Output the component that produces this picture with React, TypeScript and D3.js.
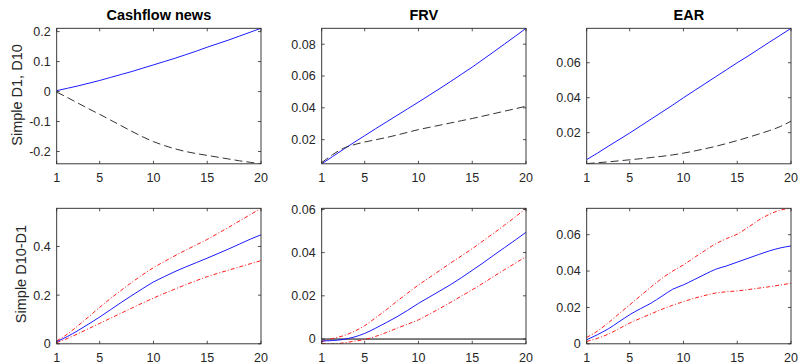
import React from "react";
import * as d3 from "d3";

const horizons = [1, 2, 3, 4, 5, 6, 7, 8, 9, 10, 11, 12, 13, 14, 15, 16, 17, 18, 19, 20];
const xTicks = [1, 5, 10, 15, 20];
const titles = ["Cashflow news", "FRV", "EAR"];
const rowLabels = ["Simple D1, D10", "Simple D10-D1"];

// top row: D10 (solid blue) and D1 (dashed black)
const cfD10 = [0.003, 0.011, 0.019, 0.028, 0.037, 0.047, 0.057, 0.067, 0.078, 0.089, 0.1, 0.111, 0.123, 0.135, 0.148, 0.16, 0.172, 0.185, 0.198, 0.211];
const cfD1 = [-0.002, -0.02, -0.039, -0.058, -0.076, -0.095, -0.114, -0.133, -0.151, -0.167, -0.18, -0.191, -0.2, -0.207, -0.213, -0.219, -0.225, -0.231, -0.236, -0.241];
const frvD10 = [0.0048, 0.0093, 0.0138, 0.0182, 0.0225, 0.0268, 0.031, 0.0352, 0.0394, 0.0436, 0.0479, 0.0522, 0.0566, 0.0611, 0.0656, 0.0704, 0.0752, 0.0801, 0.085, 0.09];
const frvD1 = [0.0055, 0.0105, 0.0145, 0.0168, 0.0185, 0.0199, 0.0213, 0.0229, 0.0246, 0.0263, 0.0277, 0.0291, 0.0305, 0.0319, 0.0333, 0.0348, 0.0363, 0.0379, 0.0394, 0.041];
const earD10 = [0.0046, 0.0083, 0.0122, 0.016, 0.0198, 0.0238, 0.0278, 0.0318, 0.0358, 0.04, 0.044, 0.048, 0.052, 0.056, 0.06, 0.0638, 0.0678, 0.0718, 0.0757, 0.0797];
const earD1 = [0.0023, 0.0028, 0.0033, 0.0039, 0.0045, 0.0051, 0.0058, 0.0065, 0.0073, 0.0083, 0.0095, 0.0108, 0.0122, 0.0138, 0.0155, 0.0173, 0.0192, 0.0212, 0.0235, 0.0266];

// bottom row: spread D10-D1 with bands
const cfSpread = [0.009, 0.03, 0.055, 0.082, 0.11, 0.14, 0.17, 0.199, 0.227, 0.254, 0.276, 0.297, 0.316, 0.334, 0.352, 0.371, 0.39, 0.41, 0.43, 0.448];
const cfUpper = [0.012, 0.04, 0.075, 0.112, 0.15, 0.186, 0.22, 0.253, 0.284, 0.313, 0.338, 0.362, 0.385, 0.407, 0.429, 0.454, 0.479, 0.505, 0.531, 0.557];
const cfLower = [0.005, 0.022, 0.042, 0.063, 0.084, 0.105, 0.126, 0.147, 0.168, 0.188, 0.207, 0.225, 0.243, 0.26, 0.276, 0.29, 0.303, 0.316, 0.329, 0.342];
const frvSpread = [-0.0009, -0.0007, -0.0002, 0.0009, 0.0026, 0.005, 0.0076, 0.0103, 0.0133, 0.0165, 0.0194, 0.0223, 0.0252, 0.0284, 0.0318, 0.0352, 0.0388, 0.0423, 0.0458, 0.0494];
const frvUpper = [-0.0012, 0.0002, 0.0015, 0.0035, 0.0062, 0.0098, 0.0135, 0.0175, 0.0213, 0.025, 0.0284, 0.0318, 0.0352, 0.0385, 0.0418, 0.0454, 0.049, 0.0527, 0.0565, 0.0605];
const frvLower = [-0.002, -0.0022, -0.0018, -0.001, -0.0002, 0.0012, 0.003, 0.005, 0.0069, 0.0089, 0.0115, 0.0142, 0.017, 0.0199, 0.0228, 0.0258, 0.029, 0.0321, 0.0351, 0.0381];
const earSpread = [0.0022, 0.005, 0.0082, 0.0121, 0.016, 0.0193, 0.0224, 0.0262, 0.03, 0.0324, 0.0353, 0.0382, 0.041, 0.0428, 0.0449, 0.047, 0.0491, 0.0511, 0.0527, 0.0538];
const earUpper = [0.0035, 0.007, 0.0115, 0.0165, 0.0214, 0.0264, 0.0313, 0.036, 0.04, 0.0434, 0.0474, 0.0513, 0.055, 0.0578, 0.0603, 0.064, 0.068, 0.0712, 0.0735, 0.0745];
const earLower = [0.0013, 0.003, 0.0053, 0.0083, 0.0114, 0.014, 0.0165, 0.019, 0.0212, 0.0232, 0.025, 0.0266, 0.0279, 0.0286, 0.0291, 0.0298, 0.0306, 0.0314, 0.0323, 0.0333];

// y limits and ticks per panel (row major)
const yLimits = [
  [-0.241, 0.211], [0.0048, 0.09], [0.0022, 0.0797],
  [0, 0.557], [-0.0022, 0.0605], [0, 0.0745],
];
const yTicks = [
  [-0.2, -0.1, 0, 0.1, 0.2], [0.02, 0.04, 0.06, 0.08], [0.02, 0.04, 0.06],
  [0, 0.2, 0.4], [0, 0.02, 0.04, 0.06], [0, 0.02, 0.04, 0.06],
];

const W = 799, H = 364;
const colLeft = [56.7, 321.7, 586.7];
const rowTop = [28.3, 208.3];
const pw = 204.3, ph = 135.5;
const axisColor = "#262626";
const font = "'Liberation Sans', Arial, sans-serif";

type Series = { values: number[]; color: string; dash?: string; width: number };

const panels: Series[][] = [
  [{ values: cfD10, color: "#0000ff", width: 0.9 }, { values: cfD1, color: "#333", dash: "8,4", width: 1 }],
  [{ values: frvD10, color: "#0000ff", width: 0.9 }, { values: frvD1, color: "#333", dash: "8,4", width: 1 }],
  [{ values: earD10, color: "#0000ff", width: 0.9 }, { values: earD1, color: "#333", dash: "8,4", width: 1 }],
  [{ values: cfUpper, color: "#ff0000", dash: "4,2,1,2", width: 0.9 }, { values: cfLower, color: "#ff0000", dash: "4,2,1,2", width: 0.9 }, { values: cfSpread, color: "#0000ff", width: 0.9 }],
  [{ values: frvUpper, color: "#ff0000", dash: "4,2,1,2", width: 0.9 }, { values: frvLower, color: "#ff0000", dash: "4,2,1,2", width: 0.9 }, { values: frvSpread, color: "#0000ff", width: 0.9 }],
  [{ values: earUpper, color: "#ff0000", dash: "4,2,1,2", width: 0.9 }, { values: earLower, color: "#ff0000", dash: "4,2,1,2", width: 0.9 }, { values: earSpread, color: "#0000ff", width: 0.9 }],
];

const fmt = (v: number) => (v === 0 ? "0" : String(+v.toFixed(3)));

function Panel({ idx }: { idx: number }) {
  const row = Math.floor(idx / 3), col = idx % 3;
  const x0 = colLeft[col], y0 = rowTop[row];
  const x = d3.scaleLinear().domain([1, 20]).range([0, pw]);
  const y = d3.scaleLinear().domain(yLimits[idx]).range([ph, 0]);
  const line = d3.line<number>().x((_, i) => x(horizons[i])).y(d => y(d)).curve(d3.curveMonotoneX);
  const tl = 3;
  return (
    <g transform={`translate(${x0},${y0})`}>
      <defs>
        <clipPath id={`clip${idx}`}>
          <rect x={0} y={0} width={pw} height={ph} />
        </clipPath>
      </defs>
      <g clipPath={`url(#clip${idx})`}>
        {idx === 4 && (
          <line x1={x(1)} x2={x(20)} y1={y(0)} y2={y(0)} stroke="#000" strokeWidth={1} />
        )}
        {panels[idx].map((s, i) => (
          <path key={i} d={line(s.values) || ""} fill="none" stroke={s.color}
            strokeWidth={s.width} strokeDasharray={s.dash} />
        ))}
      </g>
      <rect x={0} y={0} width={pw} height={ph} fill="none" stroke={axisColor} strokeWidth={0.9} />
      {xTicks.map(t => (
        <g key={t}>
          <line x1={x(t)} x2={x(t)} y1={ph} y2={ph - tl} stroke={axisColor} strokeWidth={0.8} />
          <line x1={x(t)} x2={x(t)} y1={0} y2={tl} stroke={axisColor} strokeWidth={0.8} />
          <text x={x(t)} y={ph + 18.5} textAnchor="middle" fontSize={12.5} fill={axisColor} fontFamily={font}>{t}</text>
        </g>
      ))}
      {yTicks[idx].map(t => (
        <g key={t}>
          <line x1={0} x2={tl} y1={y(t)} y2={y(t)} stroke={axisColor} strokeWidth={0.8} />
          <line x1={pw} x2={pw - tl} y1={y(t)} y2={y(t)} stroke={axisColor} strokeWidth={0.8} />
          <text x={-6} y={y(t)} dy="0.35em" textAnchor="end" fontSize={12.5} fill={axisColor} fontFamily={font}>{fmt(t)}</text>
        </g>
      ))}
      {row === 0 && (
        <text x={pw / 2} y={-8} textAnchor="middle" fontSize={14.5} fontWeight="bold" fill="#000" fontFamily={font}>{titles[col]}</text>
      )}
    </g>
  );
}

export default function App() {
  return (
    <svg width={W} height={H} style={{ position: "absolute", left: 0, top: 0, background: "#fff" }}>
      <rect width={W} height={H} fill="#fff" />
      {[0, 1, 2, 3, 4, 5].map(i => <Panel key={i} idx={i} />)}
      <text transform={`translate(17,95) rotate(-90)`} textAnchor="middle" dominantBaseline="central"
        fontSize={14.5} fill={axisColor} fontFamily={font}>{rowLabels[0]}</text>
      <text transform={`translate(21,274) rotate(-90)`} textAnchor="middle" dominantBaseline="central"
        fontSize={14.5} fill={axisColor} fontFamily={font}>{rowLabels[1]}</text>
    </svg>
  );
}
